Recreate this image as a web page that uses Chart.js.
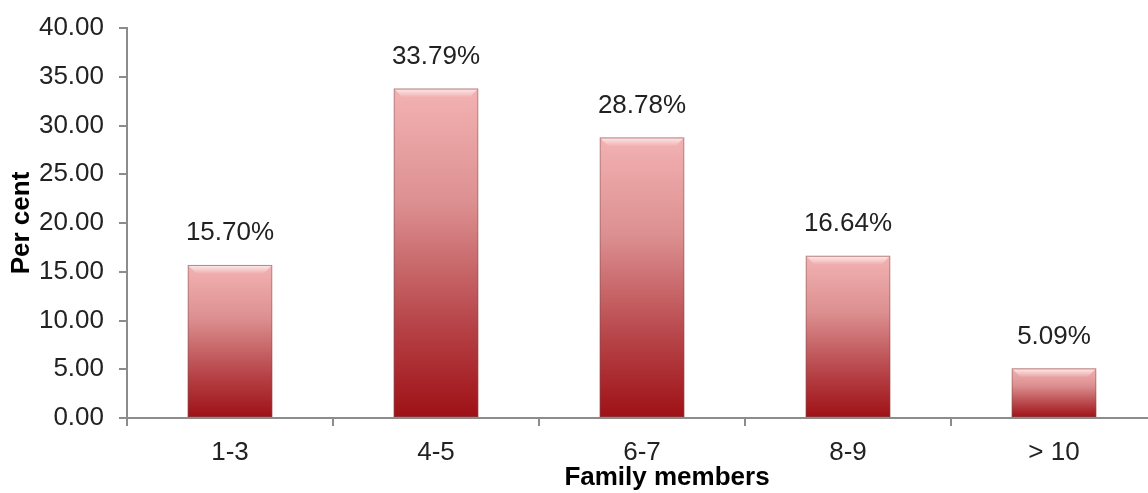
<!DOCTYPE html>
<html>
<head>
<meta charset="utf-8">
<script src="https://cdn.jsdelivr.net/npm/chart.js@4/dist/chart.umd.min.js"></script>
<style>
  html, body { margin: 0; padding: 0; background: #fff; overflow: hidden; }
  #wrap { width: 1160px; height: 493px; }
</style>
</head>
<body>
<div id="wrap"><canvas id="family-chart"></canvas></div>
<script>
const categories = ["1-3", "4-5", "6-7", "8-9", "> 10"];
const perCent = [15.70, 33.79, 28.78, 16.64, 5.09];
const yTicks = [0, 5, 10, 15, 20, 25, 30, 35, 40];
const xTitle = "Family members";

const FONT = "'Liberation Sans', Arial, sans-serif";

const barGradient = (context) => {
  const chart = context.chart;
  if (!chart.chartArea) return "#c0575a";
  const yScale = chart.scales.y;
  const top = yScale.getPixelForValue(perCent[context.dataIndex]);
  const bottom = yScale.getPixelForValue(0);
  const g = chart.ctx.createLinearGradient(0, top, 0, bottom);
  g.addColorStop(0, "#f3b2b2");
  g.addColorStop(0.35, "#dc8f90");
  g.addColorStop(0.7, "#b8474b");
  g.addColorStop(1, "#9e1015");
  return g;
};

// percentage labels above bars + small bevel highlight
const barDecor = {
  id: "barDecor",
  afterDatasetsDraw(chart) {
    const ctx = chart.ctx;
    const meta = chart.getDatasetMeta(0);
    meta.data.forEach((bar, i) => {
      const left = bar.x - bar.width / 2;
      const right = bar.x + bar.width / 2;
      ctx.save();
      const hl = ctx.createLinearGradient(0, bar.y, 0, bar.y + 9);
      hl.addColorStop(0, "rgba(255,255,255,0.75)");
      hl.addColorStop(1, "rgba(255,255,255,0)");
      ctx.fillStyle = hl;
      ctx.beginPath();
      ctx.moveTo(left + 1, bar.y + 1);
      ctx.lineTo(right - 1, bar.y + 1);
      ctx.lineTo(right - 9, bar.y + 9);
      ctx.lineTo(left + 9, bar.y + 9);
      ctx.closePath();
      ctx.fill();
      ctx.strokeStyle = "rgba(120,80,80,0.45)";
      ctx.lineWidth = 1;
      ctx.strokeRect(left + 0.5, bar.y + 0.5, bar.width - 1, bar.base - bar.y - 1);
      ctx.fillStyle = "#222";
      ctx.font = "26px " + FONT;
      ctx.textAlign = "center";
      ctx.textBaseline = "middle";
      ctx.fillText(perCent[i].toFixed(2) + "%", bar.x, bar.y - 32);
      ctx.restore();
    });
  },
  afterDraw(chart) {
    // x-axis title sits a little right of the axis centre in the original
    const ctx = chart.ctx;
    const area = chart.chartArea;
    ctx.save();
    ctx.fillStyle = "#000";
    ctx.font = "bold 26px " + FONT;
    ctx.textAlign = "center";
    ctx.textBaseline = "middle";
    ctx.fillText(xTitle, (area.left + area.right) / 2 + 25, chart.height - 15);
    ctx.restore();
  }
};

new Chart("family-chart", {
  type: "bar",
  data: {
    labels: categories,
    datasets: [{
      data: perCent,
      backgroundColor: barGradient,
      borderWidth: 0,
      categoryPercentage: 1,
      barPercentage: 0.41,
    }],
  },
  plugins: [barDecor],
  options: {
    animation: false,
    responsive: true,
    maintainAspectRatio: false,
    layout: {
      padding: { left: 6, right: 3, top: 10, bottom: 2 }
    },
    scales: {
      y: {
        min: 0,
        max: 40,
        afterBuildTicks: (axis) => {
          axis.ticks = yTicks.map(v => ({ value: v }));
        },
        afterFit: (axis) => { axis.width = 121; },
        border: { color: "#8c8c8c", width: 2 },
        grid: {
          drawOnChartArea: false,
          drawTicks: true,
          tickLength: 8,
          color: "#8c8c8c",
          lineWidth: 2,
        },
        ticks: {
          color: "#222",
          font: { family: FONT, size: 26, lineHeight: 1.0 },
          padding: 15,
          callback: (v) => Number(v).toFixed(2),
        },
        title: {
          display: true,
          text: "Per cent",
          color: "#000",
          font: { family: FONT, size: 26, weight: "bold", lineHeight: 1.2 },
          padding: { top: 0, bottom: 2 },
        },
      },
      x: {
        afterFit: (axis) => { axis.height = 73; },
        border: { color: "#8c8c8c", width: 2 },
        grid: {
          drawOnChartArea: false,
          drawTicks: true,
          tickLength: 8,
          color: "#8c8c8c",
          lineWidth: 2,
        },
        ticks: {
          color: "#222",
          font: { family: FONT, size: 26, lineHeight: 1.0 },
          padding: 14,
        },
        title: { display: false },
      },
    },
    plugins: {
      legend: { display: false },
      tooltip: { enabled: false },
    },
  },
});
</script>
</body>
</html>
